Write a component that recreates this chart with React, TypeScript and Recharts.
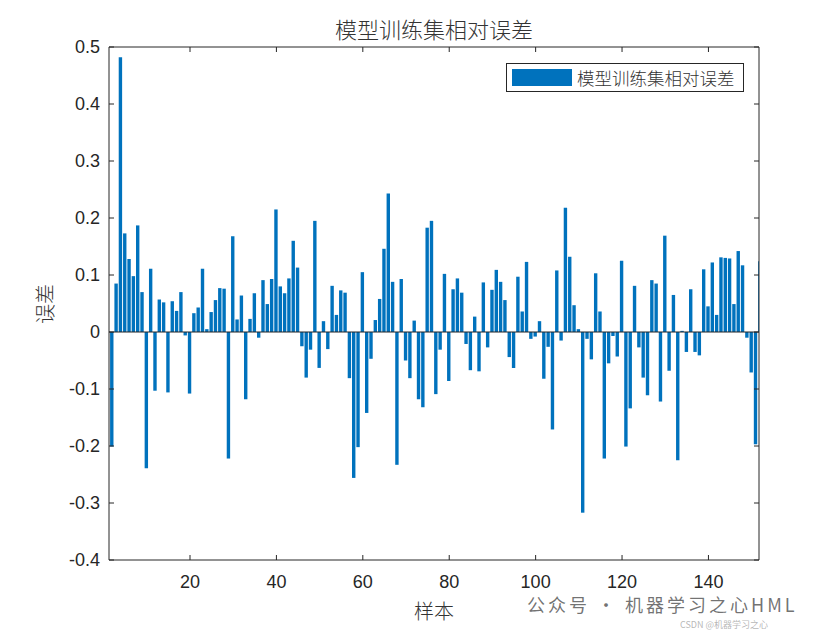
import { Bar, BarChart, ReferenceLine, XAxis, YAxis } from "recharts";

// relative error of each training sample, read left to right (first visible bar is sample 2)
const firstSample = 2;
const relativeErrors = [
  -0.201, 0.085, 0.482, 0.173, 0.128, 0.098, 0.187, 0.07, -0.239, 0.111,
  -0.103, 0.057, 0.052, -0.106, 0.054, 0.037, 0.07, -0.006, -0.108, 0.033,
  0.043, 0.111, 0.005, 0.035, 0.056, 0.077, 0.076, -0.222, 0.168, 0.022,
  0.064, -0.118, 0.023, 0.068, -0.01, 0.091, 0.049, 0.093, 0.215, 0.08,
  0.068, 0.094, 0.16, 0.113, -0.025, -0.08, -0.031, 0.195, -0.063, 0.019,
  -0.03, 0.081, 0.03, 0.073, 0.069, -0.081, -0.256, -0.202, 0.105, -0.142,
  -0.047, 0.021, 0.058, 0.146, 0.243, 0.088, -0.233, 0.093, -0.05, -0.081,
  0.02, -0.118, -0.132, 0.183, 0.195, -0.109, -0.031, 0.102, -0.086, 0.075,
  0.094, 0.069, -0.021, -0.067, 0.027, -0.069, 0.087, -0.027, 0.074, 0.109,
  0.088, 0.056, -0.044, -0.063, 0.097, 0.036, 0.123, -0.012, -0.008, 0.019,
  -0.082, -0.026, -0.171, 0.108, -0.015, 0.218, 0.132, 0.047, 0.005, -0.317,
  -0.012, -0.048, 0.103, 0.036, -0.222, -0.055, -0.007, -0.043, 0.125, -0.201,
  -0.134, 0.081, -0.027, -0.08, -0.111, 0.091, 0.085, -0.122, 0.169, -0.068,
  0.065, -0.225, 0.002, -0.035, 0.075, -0.035, -0.041, 0.11, 0.045, 0.122,
  0.03, 0.131, 0.13, 0.129, 0.049, 0.142, 0.117, -0.01, -0.071, -0.197,
  0.124,
];

const xTicks = [20, 40, 60, 80, 100, 120, 140];
const yTicks = [-0.4, -0.3, -0.2, -0.1, 0, 0.1, 0.2, 0.3, 0.4, 0.5];
const xDomain = [1.25, 151.7];
const yDomain = [-0.4, 0.5];

const seriesName = "模型训练集相对误差";
const titleText = "模型训练集相对误差";
const xLabelText = "样本";
const yLabelText = "误差";

const chartData = relativeErrors.map((value, i) => ({
  sample: firstSample + i,
  error: value,
}));

const axisColor = "#262626";
const barColor = "#0072BD";
const tickFont = "Arial, 'Liberation Sans', Helvetica, sans-serif";
const cjkFont = "'Noto Sans CJK SC', 'Noto Sans', sans-serif";

const LeftTick = (props: any) => {
  const { x, y, payload } = props;
  return (
    <g>
      <line x1={x} x2={x + 5} y1={y} y2={y} stroke={axisColor} />
      <text
        x={x - 9}
        y={y}
        textAnchor="end"
        dominantBaseline="central"
        fontSize={18}
        fontFamily={tickFont}
        fill={axisColor}
      >
        {payload.value}
      </text>
    </g>
  );
};

const RightTick = (props: any) => {
  const { x, y } = props;
  return <line x1={x - 5} x2={x} y1={y} y2={y} stroke={axisColor} />;
};

const BottomTick = (props: any) => {
  const { x, y, payload } = props;
  return (
    <g>
      <line x1={x} x2={x} y1={y} y2={y - 5} stroke={axisColor} />
      <text
        x={x}
        y={y + 22}
        textAnchor="middle"
        dominantBaseline="central"
        fontSize={18}
        fontFamily={tickFont}
        fill={axisColor}
      >
        {payload.value}
      </text>
    </g>
  );
};

const TopTick = (props: any) => {
  const { x, y } = props;
  return <line x1={x} x2={x} y1={y} y2={y + 5} stroke={axisColor} />;
};

export default function App() {
  return (
    <div
      style={{
        position: "absolute",
        left: 0,
        top: 0,
        width: 840,
        height: 630,
        background: "#fff",
      }}
    >
      <div
        style={{
          position: "absolute",
          left: 234,
          width: 400,
          top: 14,
          textAlign: "center",
          fontFamily: cjkFont,
          fontSize: 22,
          fontWeight: 300,
          color: "#333",
          lineHeight: "28px",
        }}
      >
        {titleText}
      </div>

      <BarChart
        width={840}
        height={630}
        data={chartData}
        margin={{ top: 0, right: 0, bottom: 0, left: 0 }}
      >
        <XAxis
          dataKey="sample"
          type="number"
          domain={xDomain}
          allowDataOverflow
          ticks={xTicks}
          interval={0}
          tickSize={0}
          tickMargin={0}
          tickLine={false}
          tick={BottomTick}
          height={70}
          stroke={axisColor}
        />
        <XAxis
          xAxisId="top"
          orientation="top"
          dataKey="sample"
          type="number"
          domain={xDomain}
          allowDataOverflow
          ticks={xTicks}
          interval={0}
          tickSize={0}
          tickMargin={0}
          tickLine={false}
          tick={TopTick}
          height={47}
          stroke={axisColor}
        />
        <YAxis
          type="number"
          domain={yDomain}
          allowDataOverflow
          ticks={yTicks}
          interval={0}
          tickSize={0}
          tickMargin={0}
          tickLine={false}
          tick={LeftTick}
          width={109}
          stroke={axisColor}
        />
        <YAxis
          yAxisId="right"
          orientation="right"
          type="number"
          domain={yDomain}
          allowDataOverflow
          ticks={yTicks}
          interval={0}
          tickSize={0}
          tickMargin={0}
          tickLine={false}
          tick={RightTick}
          width={81}
          stroke={axisColor}
        />
        <Bar
          dataKey="error"
          name={seriesName}
          fill={barColor}
          barSize={3.4}
          isAnimationActive={false}
        />
        <ReferenceLine y={0} stroke={axisColor} strokeWidth={1} />
      </BarChart>

      {/* legend box, top right inside the axes */}
      <div
        style={{
          position: "absolute",
          left: 506,
          top: 63,
          boxSizing: "border-box",
          width: 238,
          height: 29,
          border: `1px solid ${axisColor}`,
          background: "#fff",
          display: "flex",
          alignItems: "center",
          paddingLeft: 5,
          gap: 5,
        }}
      >
        <div style={{ width: 60, height: 17, background: barColor }} />
        <span
          style={{
            fontFamily: cjkFont,
            fontSize: 17.5,
            color: "#333",
            fontWeight: 300,
            whiteSpace: "nowrap",
          }}
        >
          {seriesName}
        </span>
      </div>

      <div
        style={{
          position: "absolute",
          left: 414,
          top: 598,
          fontFamily: cjkFont,
          fontSize: 20,
          fontWeight: 300,
          color: "#333",
          lineHeight: "26px",
        }}
      >
        {xLabelText}
      </div>
      <div
        style={{
          position: "absolute",
          left: 25,
          top: 291,
          width: 40,
          textAlign: "center",
          transform: "rotate(-90deg)",
          fontFamily: cjkFont,
          fontSize: 20,
          fontWeight: 300,
          color: "#333",
          lineHeight: "26px",
        }}
      >
        {yLabelText}
      </div>

      <div
        style={{
          position: "absolute",
          left: 527,
          top: 595,
          fontFamily: cjkFont,
          fontSize: 18,
          letterSpacing: 3,
          lineHeight: "19px",
          color: "rgba(90,90,90,0.85)",
          whiteSpace: "nowrap",
        }}
      >
        公众号 · 机器学习之心HML
      </div>
      <div
        style={{
          position: "absolute",
          left: 680,
          top: 620,
          fontFamily: cjkFont,
          fontSize: 9,
          lineHeight: "10px",
          color: "rgba(150,150,150,0.7)",
          whiteSpace: "nowrap",
        }}
      >
        CSDN @机器学习之心
      </div>
    </div>
  );
}
